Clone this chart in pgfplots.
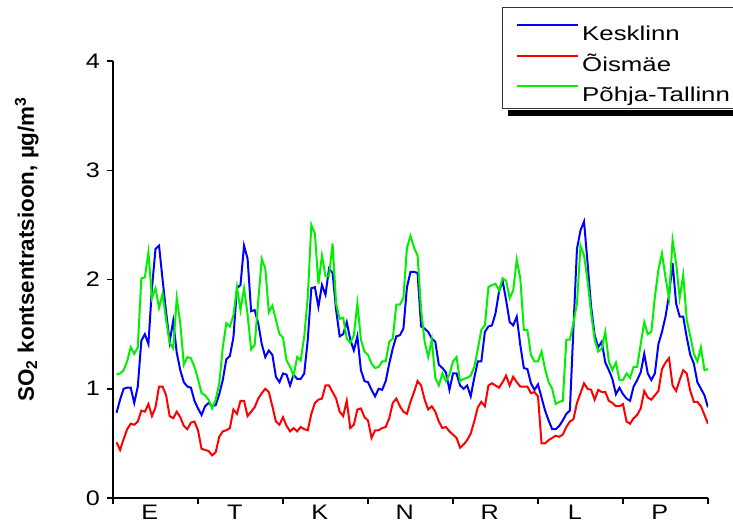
\documentclass[border=0pt]{standalone}
\usepackage{fontspec}
\setmainfont{Liberation Sans}[FakeStretch=1.2]
\newfontfamily\legfont{Liberation Sans}[FakeStretch=1.29]
\newfontfamily\ylfont{Liberation Sans}
\usepackage{pgfplots}
\usepackage{pgfplotstable}
\pgfplotsset{compat=1.18}
\definecolor{cK}{RGB}{0,0,255}
\definecolor{cO}{RGB}{255,0,0}
\definecolor{cP}{RGB}{0,240,0}

\pgfplotstableread{
i K O P
1 0.78 0.51 1.13
2 0.90 0.44 1.14
3 1.00 0.54 1.17
4 1.01 0.63 1.25
5 1.01 0.68 1.38
6 0.87 0.67 1.32
7 1.02 0.70 1.38
8 1.44 0.80 2.01
9 1.50 0.79 2.02
10 1.41 0.86 2.25
11 1.92 0.75 1.83
12 2.28 0.83 1.92
13 2.31 1.02 1.74
14 2.00 1.02 1.87
15 1.70 0.94 1.63
16 1.43 0.75 1.42
17 1.62 0.73 1.37
18 1.33 0.79 1.83
19 1.17 0.74 1.60
20 1.06 0.66 1.22
21 1.02 0.63 1.29
22 1.01 0.69 1.28
23 0.89 0.70 1.20
24 0.82 0.62 1.09
25 0.76 0.45 0.96
26 0.84 0.44 0.94
27 0.87 0.43 0.90
28 0.84 0.39 0.82
29 0.85 0.42 0.90
30 0.95 0.56 1.05
31 1.08 0.61 1.38
32 1.27 0.62 1.60
33 1.30 0.64 1.57
34 1.47 0.81 1.67
35 1.92 0.77 1.93
36 1.95 0.89 1.72
37 2.31 0.89 1.92
38 2.19 0.75 1.68
39 1.71 0.79 1.36
40 1.72 0.83 1.40
41 1.60 0.91 1.80
42 1.41 0.96 2.19
43 1.29 1.00 2.10
44 1.35 0.97 1.70
45 1.31 0.84 1.76
46 1.11 0.70 1.63
47 1.06 0.67 1.50
48 1.14 0.74 1.47
49 1.13 0.66 1.26
50 1.03 0.61 1.20
51 1.13 0.64 1.12
52 1.09 0.61 1.29
53 1.09 0.65 1.26
54 1.14 0.63 1.48
55 1.45 0.62 1.84
56 1.92 0.77 2.50
57 1.93 0.87 2.42
58 1.75 0.90 1.96
59 1.95 0.91 2.22
60 1.86 1.03 2.03
61 2.10 1.03 2.03
62 2.06 0.97 2.33
63 1.72 0.91 1.78
64 1.48 0.79 1.64
65 1.50 0.75 1.65
66 1.61 0.89 1.46
67 1.45 0.64 1.42
68 1.35 0.67 1.49
69 1.48 0.81 1.78
70 1.17 0.82 1.45
71 1.07 0.74 1.34
72 1.06 0.71 1.31
73 0.99 0.55 1.23
74 0.93 0.62 1.19
75 1.00 0.62 1.20
76 0.99 0.64 1.25
77 1.07 0.65 1.25
78 1.23 0.73 1.43
79 1.37 0.87 1.46
80 1.48 0.91 1.77
81 1.49 0.84 1.77
82 1.55 0.79 1.83
83 1.93 0.77 2.29
84 2.07 0.88 2.40
85 2.07 0.97 2.29
86 2.06 1.07 2.22
87 1.57 1.03 1.72
88 1.55 0.90 1.43
89 1.52 0.81 1.29
90 1.46 0.84 1.45
91 1.43 0.79 1.10
92 1.22 0.70 1.03
93 1.19 0.64 1.14
94 1.15 0.65 1.07
95 0.99 0.61 1.13
96 1.14 0.58 1.25
97 1.14 0.55 1.29
98 1.03 0.46 1.07
99 1.00 0.49 1.09
100 1.03 0.53 1.10
101 0.93 0.59 1.12
102 1.10 0.70 1.20
103 1.25 0.83 1.36
104 1.25 0.88 1.54
105 1.52 0.84 1.58
106 1.57 1.03 1.93
107 1.58 1.05 1.95
108 1.69 1.03 1.96
109 1.89 1.01 1.90
110 1.99 1.06 2.01
111 1.81 1.12 1.99
112 1.61 1.03 1.83
113 1.58 1.11 1.90
114 1.66 1.06 2.18
115 1.40 1.02 2.01
116 1.19 1.02 1.54
117 1.18 1.02 1.54
118 1.05 0.96 1.31
119 0.99 0.97 1.25
120 1.04 0.93 1.25
121 0.92 0.50 1.34
122 0.80 0.50 1.18
123 0.71 0.53 1.06
124 0.63 0.55 1.00
125 0.63 0.57 0.86
126 0.66 0.56 0.88
127 0.71 0.58 0.89
128 0.77 0.65 1.45
129 0.80 0.70 1.45
130 1.55 0.72 1.60
131 2.28 0.87 1.78
132 2.45 0.96 2.31
133 2.53 1.05 2.22
134 2.15 1.00 1.99
135 1.75 0.99 1.69
136 1.49 0.90 1.45
137 1.38 0.99 1.34
138 1.43 0.97 1.37
139 1.24 0.97 1.52
140 1.17 0.89 1.25
141 1.09 0.87 1.17
142 0.95 0.84 1.24
143 1.01 0.84 1.08
144 0.95 0.86 1.08
145 0.91 0.70 1.14
146 0.89 0.68 1.10
147 1.02 0.73 1.20
148 1.08 0.76 1.20
149 1.15 0.82 1.41
150 1.32 0.98 1.61
151 1.14 0.92 1.50
152 1.08 0.90 1.52
153 1.14 0.94 1.84
154 1.41 0.98 2.09
155 1.52 1.18 2.24
156 1.66 1.24 2.02
157 1.86 1.28 1.83
158 2.15 1.03 2.36
159 1.78 0.98 2.15
160 1.66 1.08 1.83
161 1.66 1.17 2.04
162 1.47 1.14 1.63
163 1.31 0.98 1.48
164 1.23 0.88 1.32
165 1.06 0.88 1.25
166 1.00 0.84 1.38
167 0.94 0.76 1.17
168 0.83 0.68 1.18
}\data

\begin{document}
\begin{tikzpicture}
\begin{axis}[
  at={(0,0)}, anchor=south west,
  width=297.5pt, height=218.5pt, scale only axis,
  xmin=0, xmax=168, ymin=0, ymax=4,
  axis x line*=bottom, axis y line*=left,
  axis line style={-, black, line width=0.75pt},
  tick align=outside, major tick length=3pt,
  tick style={black, line width=0.75pt},
  xtick={0,24,...,168}, xticklabels={},
  extra x ticks={10.4,34.4,58.4,82.4,106.4,130.4,154.4},
  extra x tick labels={E,T,K,N,R,L,P},
  extra x tick style={major tick length=0pt},
  ytick={0,1,2,3,4},
  /pgf/number format/assume math mode=true,
  tick label style={font=\fontsize{10.5}{12}\selectfont},
  ylabel={SO\textsubscript{2} kontsentratsioon, µg/m\textsuperscript{3}},
  ylabel style={at={(axis description cs:-0.145,0.57)}, anchor=center,
    font=\ylfont\bfseries\fontsize{11.2}{13}\selectfont},
  legend cell align=left,
  legend image code/.code={\draw[#1] (0pt,5pt) -- (30.5pt,5pt); \path (32pt,0pt);},
  legend style={at={(axis description cs:0.6533,1.1236)}, anchor=north west,
    name=leg,
    draw=black!80, line width=0.5pt, fill=white,
    font=\legfont\fontsize{10}{12}\selectfont,
    inner xsep=7pt, inner ysep=1pt, row sep=4.5pt,
    nodes={inner sep=0pt, text height=8pt, text depth=2.5pt}},
]
\addlegendimage{empty legend}
\addlegendentry[text height=3pt, text depth=0pt]{}
\addplot[cK, line width=1pt] table[x=i, y=K] {\data};
\addlegendentry{Kesklinn}
\addplot[cO, line width=1pt] table[x=i, y=O] {\data};
\addlegendentry{Õismäe}
\addplot[cP, line width=1pt] table[x=i, y=P] {\data};
\addlegendentry{Põhja-Tallinn\hspace{5pt}}
\end{axis}
\fill[black] ([xshift=3.25pt,yshift=-0.25pt]leg.south west) rectangle ([xshift=3.25pt,yshift=-3.25pt]leg.south east);
\fill[black] ([xshift=0.25pt,yshift=-3pt]leg.north east) rectangle ([xshift=3.25pt,yshift=-3.25pt]leg.south east);
\pgfresetboundingbox
\useasboundingbox (-56.5pt,-11.5pt) rectangle (310pt,249pt);
\end{tikzpicture}
\end{document}
